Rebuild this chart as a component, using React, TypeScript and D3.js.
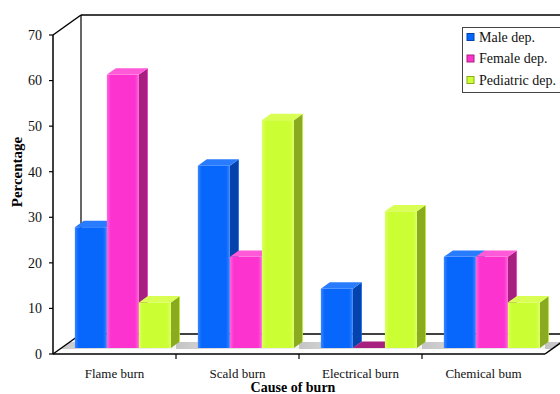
import React from "react";
import * as d3 from "d3";

// Burn cause distribution by department (percent)
const categories = ["Flame burn", "Scald burn", "Electrical burn", "Chemical bum"];
const seriesNames = ["Male dep.", "Female dep.", "Pediatric dep."];
const maleValues = [26.5, 40, 13, 20];
const femaleValues = [60, 20, 0, 20];
const pediatricValues = [10, 50, 30, 10];
const yTicks = [0, 10, 20, 30, 40, 50, 60, 70];

const seriesValues = [maleValues, femaleValues, pediatricValues];

// face colours per series: front, side, top
const palette = [
  { front: "#0766fb", light: "#3a86ff", side: "#0442ad", top: "#2a7cff" },
  { front: "#fc33cf", light: "#ff66dd", side: "#a8207f", top: "#ff5ad8" },
  { front: "#ccff33", light: "#dcff66", side: "#8aaa1f", top: "#d9ff55" },
];

const W = 560;
const H = 394;
const frontLeft = 53;
const frontRight = 545;
const yTop = 35;
const yBase = 354;
const depthDx = 28;
const depthDy = -20;
const barDepthStart = 0.3;
const barDepthSize = 0.32;
const serif = "'Liberation Serif', 'DejaVu Serif', serif";

export default function App() {
  const y = d3.scaleLinear().domain([0, 70]).range([yBase, yTop]);
  const x0 = d3.scaleBand<string>().domain(categories).range([frontLeft, frontRight]);
  const x1 = d3
    .scaleBand<string>()
    .domain(seriesNames)
    .range([0, x0.bandwidth()])
    .paddingOuter(0.42);

  const offX = depthDx * barDepthStart;
  const offY = depthDy * barDepthStart;
  const sdx = depthDx * barDepthSize;
  const sdy = depthDy * barDepthSize;
  const bw = x1.bandwidth();

  const floorFront = barDepthStart - 0.05;
  const floorBack = barDepthStart + barDepthSize - 0.02;

  const pt = (arr: number[][]) => arr.map((p) => p.join(",")).join(" ");

  const bars: React.ReactNode[] = [];
  categories.forEach((cat, ci) => {
    seriesNames.forEach((s, si) => {
      const v = seriesValues[si][ci];
      const c = palette[si];
      const xl = (x0(cat) as number) + (x1(s) as number) + offX;
      const xr = xl + bw;
      const yb = yBase + offY;
      const yt = y(v) + offY;
      bars.push(
        <g key={`${ci}-${si}`}>
          {v > 0 && (
            <polygon
              points={pt([
                [xr, yt],
                [xr + sdx, yt + sdy],
                [xr + sdx, yb + sdy],
                [xr, yb],
              ])}
              fill={`url(#side${si})`}
            />
          )}
          {v > 0 && (
            <rect x={xl} y={yt} width={bw} height={yb - yt} fill={`url(#front${si})`} />
          )}
          <polygon
            points={pt([
              [xl, yt],
              [xr, yt],
              [xr + sdx, yt + sdy],
              [xl + sdx, yt + sdy],
            ])}
            fill={v > 0 ? c.top : c.side}
          />
        </g>
      );
    });
  });

  return (
    <svg
      width={W}
      height={H}
      viewBox={`0 0 ${W} ${H}`}
      style={{ position: "absolute", left: 0, top: 0, background: "#fff" }}
    >
      <defs>
        {palette.map((c, i) => (
          <linearGradient key={`f${i}`} id={`front${i}`} x1="0" x2="1" y1="0" y2="0">
            <stop offset="0" stopColor={c.light} />
            <stop offset="0.12" stopColor={c.front} />
            <stop offset="0.88" stopColor={c.front} />
            <stop offset="1" stopColor={c.light} />
          </linearGradient>
        ))}
        {palette.map((c, i) => (
          <linearGradient key={`s${i}`} id={`side${i}`} x1="0" x2="1" y1="0" y2="0">
            <stop offset="0" stopColor={c.side} />
            <stop offset="0.85" stopColor={c.side} />
            <stop offset="1" stopColor={c.front} />
          </linearGradient>
        ))}
        <linearGradient
          id="floorGrad"
          gradientUnits="userSpaceOnUse"
          x1={frontLeft}
          x2={frontLeft + x0.bandwidth()}
          y1="0"
          y2="0"
          spreadMethod="repeat"
        >
          <stop offset="0" stopColor="#c4c4c4" />
          <stop offset="0.5" stopColor="#e4e4e4" />
          <stop offset="1" stopColor="#f4f4f4" />
        </linearGradient>
      </defs>

      {/* back wall and side wall frame */}
      <line
        x1={frontLeft + depthDx}
        x2={W + 20}
        y1={yTop + depthDy}
        y2={yTop + depthDy}
        stroke="#000"
        strokeWidth={1.5}
      />
      <line
        x1={frontLeft + depthDx}
        x2={frontLeft + depthDx}
        y1={yTop + depthDy}
        y2={yBase + depthDy}
        stroke="#000"
        strokeWidth={1.2}
      />
      <line
        x1={frontLeft}
        y1={yTop}
        x2={frontLeft + depthDx}
        y2={yTop + depthDy}
        stroke="#000"
        strokeWidth={1.5}
      />

      {/* floor */}
      <line
        x1={frontLeft + depthDx}
        x2={frontRight + depthDx}
        y1={yBase + depthDy}
        y2={yBase + depthDy}
        stroke="#000"
        strokeWidth={1.5}
      />
      <polygon
        points={pt([
          [frontLeft + depthDx * floorFront, yBase + depthDy * floorFront],
          [frontRight + depthDx * floorFront, yBase + depthDy * floorFront],
          [frontRight + depthDx * floorBack, yBase + depthDy * floorBack],
          [frontLeft + depthDx * floorBack, yBase + depthDy * floorBack],
        ])}
        fill="url(#floorGrad)"
      />
      <line
        x1={frontLeft}
        y1={yBase}
        x2={frontLeft + depthDx}
        y2={yBase + depthDy}
        stroke="#000"
        strokeWidth={1.5}
      />
      <line
        x1={frontRight}
        y1={yBase}
        x2={frontRight + depthDx}
        y2={yBase + depthDy}
        stroke="#000"
        strokeWidth={1.5}
      />

      {bars}

      {/* front axes */}
      <line x1={frontLeft} x2={frontLeft} y1={yTop} y2={yBase} stroke="#000" strokeWidth={1.5} />
      <line x1={frontLeft} x2={frontRight} y1={yBase} y2={yBase} stroke="#000" strokeWidth={1.5} />

      {yTicks.map((t) => (
        <g key={t}>
          <line x1={frontLeft - 4} x2={frontLeft} y1={y(t)} y2={y(t)} stroke="#000" strokeWidth={1.2} />
          <text
            x={frontLeft - 11}
            y={y(t)}
            dy="0.35em"
            textAnchor="end"
            fontFamily={serif}
            fontSize={14}
            fill="#111"
          >
            {t}
          </text>
        </g>
      ))}

      {categories.map((c, i) =>
        i > 0 ? (
          <line
            key={`t${c}`}
            x1={x0(c) as number}
            x2={x0(c) as number}
            y1={yBase}
            y2={yBase + 5}
            stroke="#000"
            strokeWidth={1.2}
          />
        ) : null
      )}
      {categories.map((c) => (
        <text
          key={c}
          x={(x0(c) as number) + x0.bandwidth() / 2}
          y={373}
          dy="0.35em"
          textAnchor="middle"
          fontFamily={serif}
          fontSize={13}
          fill="#111"
        >
          {c}
        </text>
      ))}

      <text
        x={293}
        y={392}
        textAnchor="middle"
        fontFamily={serif}
        fontSize={14}
        fontWeight="bold"
        fill="#000"
      >
        Cause of burn
      </text>
      <text
        transform={`translate(22,172) rotate(-90)`}
        textAnchor="middle"
        fontFamily={serif}
        fontSize={15}
        fontWeight="bold"
        fill="#000"
      >
        Percentage
      </text>

      {/* legend */}
      <g>
        <rect x={462.5} y={27.5} width={110} height={65} fill="#fff" stroke="#444" strokeWidth={1} />
        {seriesNames.map((s, i) => (
          <g key={s} transform={`translate(467, ${37 + i * 21.5})`}>
            <rect x={0} y={-3.5} width={7} height={7} fill={palette[i].front} stroke={palette[i].side} strokeWidth={1} />
            <text x={12} y={0} dy="0.35em" fontFamily={serif} fontSize={14} fill="#111">
              {s}
            </text>
          </g>
        ))}
      </g>
    </svg>
  );
}
